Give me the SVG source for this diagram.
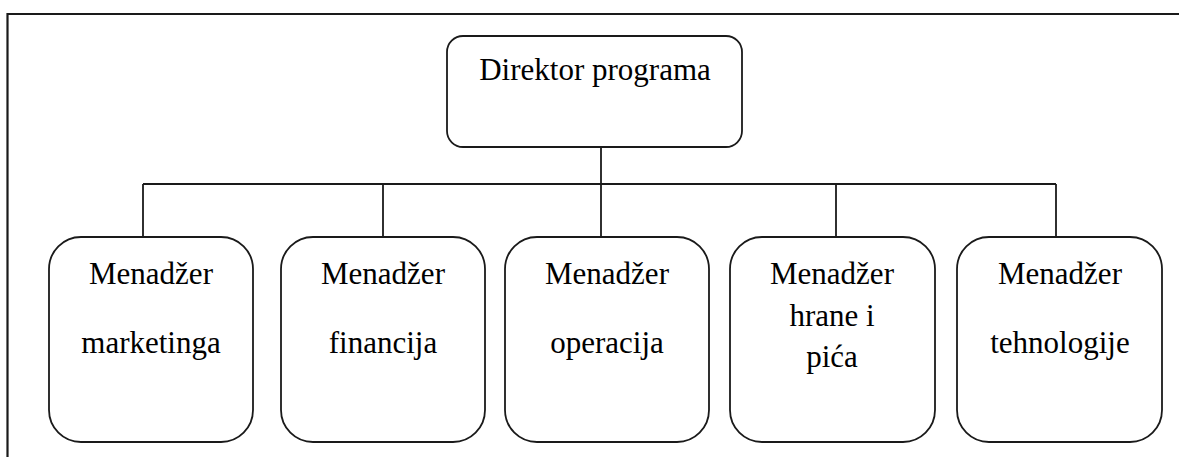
<svg xmlns="http://www.w3.org/2000/svg" width="1179" height="457" viewBox="0 0 1179 457">
<style>
.frame{fill:none;stroke:#1a1a1a;stroke-width:2.2}
.box{fill:#fff;stroke:#1a1a1a;stroke-width:1.8}
.conn{fill:none;stroke:#1a1a1a;stroke-width:1.8}
text{font-family:"Liberation Serif","Times New Roman",serif;font-size:31px;fill:#000;text-anchor:middle}
</style>
<rect width="1179" height="457" fill="#fff"/>
<path class="frame" d="M7.5,457 V14 H1179"/>
<g id="connectors">
<path class="conn" d="M601,147 V237"/>
<path class="conn" d="M143,184 H1056"/>
<path class="conn" d="M143,184 V237"/>
<path class="conn" d="M383,184 V237"/>
<path class="conn" d="M836,184 V237"/>
<path class="conn" d="M1056,184 V237"/>
</g>
<g id="direktor">
<rect class="box" x="447" y="36" width="295" height="111" rx="16" ry="16"/>
<text x="595" y="80">Direktor programa</text>
</g>
<g id="marketing">
<rect class="box" x="49" y="237" width="204" height="205" rx="32" ry="32"/>
<text x="151" y="284">Menadžer</text>
<text x="151" y="353">marketinga</text>
</g>
<g id="financije">
<rect class="box" x="281" y="237" width="204" height="205" rx="32" ry="32"/>
<text x="383" y="284">Menadžer</text>
<text x="383" y="353">financija</text>
</g>
<g id="operacije">
<rect class="box" x="505" y="237" width="204" height="205" rx="32" ry="32"/>
<text x="607" y="284">Menadžer</text>
<text x="607" y="353">operacija</text>
</g>
<g id="hrana">
<rect class="box" x="730" y="237" width="205" height="205" rx="32" ry="32"/>
<text x="832" y="284">Menadžer</text>
<text x="832" y="326">hrane i</text>
<text x="832" y="367">pića</text>
</g>
<g id="tehnologija">
<rect class="box" x="957" y="237" width="205" height="205" rx="32" ry="32"/>
<text x="1060" y="284">Menadžer</text>
<text x="1060" y="353">tehnologije</text>
</g>
</svg>
